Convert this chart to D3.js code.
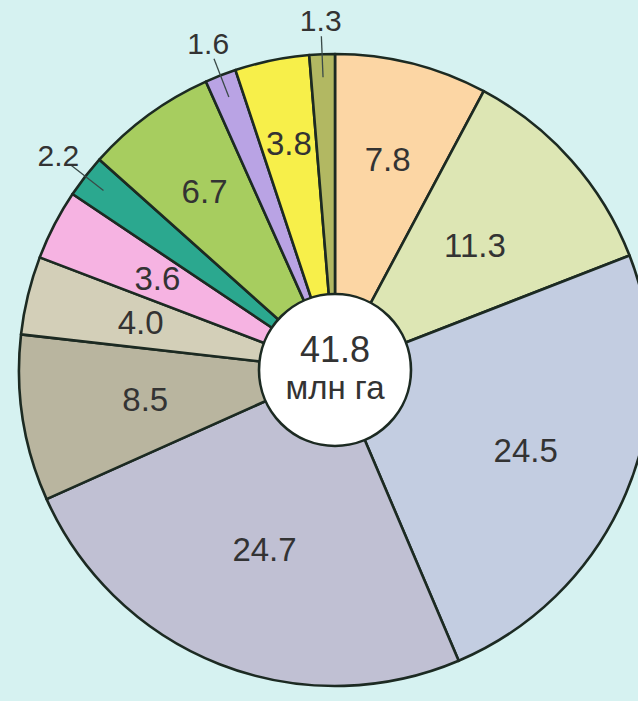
<!DOCTYPE html>
<html>
<head>
<meta charset="utf-8">
<script src="https://cdn.jsdelivr.net/npm/d3@7/dist/d3.min.js"></script>
<style>
  html, body { margin: 0; padding: 0; background: #d6f2f1; }
  svg { display: block; }
  text { font-family: "Liberation Sans", Arial, sans-serif; fill: #333; }
</style>
</head>
<body>
<svg id="chart" width="638" height="701"></svg>
<script>
// Land area shares, clockwise from 12 o'clock
const values = [7.8, 11.3, 24.5, 24.7, 8.5, 4.0, 3.6, 2.2, 6.7, 1.6, 3.8, 1.3];
const labels = ["7.8", "11.3", "24.5", "24.7", "8.5", "4.0", "3.6", "2.2", "6.7", "1.6", "3.8", "1.3"];
const colors = ["#fcd6a4", "#dde6b4", "#c3cde1", "#c0c0d3", "#b9b59f", "#d3cfb8",
                "#f6b3e2", "#2ba88f", "#a7cd5f", "#b9a3e4", "#f7ef4a", "#b2b862"];
const totalValue = "41.8";
const totalUnit = "млн га";

const svg = d3.select("#chart");
const cx = 335, cy = 370;
const outerR = 316, innerR = 76;

const g = svg.append("g").attr("transform", `translate(${cx},${cy})`);

const pie = d3.pie().sort(null).value(d => d);
const arcs = pie(values);
const arc = d3.arc().innerRadius(0).outerRadius(outerR);

g.selectAll("path.slice")
  .data(arcs)
  .enter().append("path")
  .attr("class", "slice")
  .attr("d", arc)
  .attr("fill", (d, i) => colors[i])
  .attr("stroke", "#1c2a22")
  .attr("stroke-width", 2.6)
  .attr("stroke-linejoin", "round");

// label distance from centre for the slices labelled inside
const insideR = [217, 187, 207, 193, 192, 200, 200, null, 221, null, 231, null];
const outsideIdx = new Set([7, 9, 11]);

const pointAt = (angle, r) => [Math.sin(angle) * r, -Math.cos(angle) * r];

arcs.forEach((d, i) => {
  const mid = (d.startAngle + d.endAngle) / 2;
  if (outsideIdx.has(i)) {
    const a = pointAt(mid, 293), b = pointAt(mid, 334), t = pointAt(mid, 350);
    g.append("line")
      .attr("x1", a[0]).attr("y1", a[1]).attr("x2", b[0]).attr("y2", b[1])
      .attr("stroke", "#3a4a48").attr("stroke-width", 1.3);
    g.append("text")
      .attr("x", t[0]).attr("y", t[1])
      .attr("text-anchor", "middle").attr("dominant-baseline", "central")
      .attr("font-size", 30)
      .text(labels[i]);
  } else {
    const p = d3.arc().innerRadius(insideR[i]).outerRadius(insideR[i]).centroid(d);
    g.append("text")
      .attr("x", p[0]).attr("y", p[1])
      .attr("text-anchor", "middle").attr("dominant-baseline", "central")
      .attr("font-size", 33)
      .text(labels[i]);
  }
});

// centre disc with the total
g.append("circle")
  .attr("r", innerR)
  .attr("fill", "#ffffff")
  .attr("stroke", "#1c2a22")
  .attr("stroke-width", 2.6);

g.append("text")
  .attr("x", 0).attr("y", -8)
  .attr("text-anchor", "middle")
  .attr("font-size", 36)
  .text(totalValue);

g.append("text")
  .attr("x", 0).attr("y", 29)
  .attr("text-anchor", "middle")
  .attr("font-size", 33)
  .text(totalUnit);
</script>
</body>
</html>
